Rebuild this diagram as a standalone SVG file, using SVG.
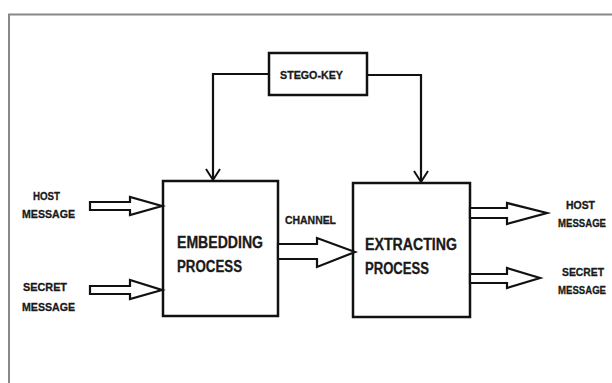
<svg xmlns="http://www.w3.org/2000/svg" width="612" height="383" viewBox="0 0 612 383">
<defs>
<style>
.box{fill:#fff;stroke:#111;stroke-width:2.5}
.ln{fill:none;stroke:#111;stroke-width:2.2}
.blk{fill:#fff;stroke:#111;stroke-width:2.2;stroke-linejoin:miter}
.t{font-family:"Liberation Sans",Arial,sans-serif;font-weight:bold;fill:#1a1a1a;stroke:#1a1a1a;stroke-width:0.3}
.s{font-size:11px}
.b{font-size:16px}
</style>
<marker id="v" markerWidth="14" markerHeight="16" refX="12" refY="8" orient="auto" markerUnits="userSpaceOnUse" viewBox="0 0 14 16">
<path d="M1,1 L12,8 L1,15" fill="none" stroke="#111" stroke-width="2"/>
</marker>
</defs>
<rect width="612" height="383" fill="#fff"/>
<path d="M9,383 L9,14.5 L612,14.5" fill="none" stroke="#888" stroke-width="2"/>
<g id="stego-key">
<rect class="box" x="269" y="53" width="98" height="42"/>
<text class="t s" x="280" y="79" textLength="63" lengthAdjust="spacingAndGlyphs">STEGO-KEY</text>
</g>
<g id="embedding">
<rect class="box" x="163" y="181" width="115" height="135"/>
<text class="t b" x="177" y="248" textLength="86" lengthAdjust="spacingAndGlyphs">EMBEDDING</text>
<text class="t b" x="177" y="272" textLength="65" lengthAdjust="spacingAndGlyphs">PROCESS</text>
</g>
<g id="extracting">
<rect class="box" x="353" y="183" width="117" height="134"/>
<text class="t b" x="365" y="250" textLength="92" lengthAdjust="spacingAndGlyphs">EXTRACTING</text>
<text class="t b" x="365" y="274" textLength="64" lengthAdjust="spacingAndGlyphs">PROCESS</text>
</g>
<g id="connectors">
<path class="ln" d="M269,74 L213,74 L213,180" marker-end="url(#v)"/>
<path class="ln" d="M367,75 L421,75 L421,182" marker-end="url(#v)"/>
<polygon class="blk" points="90,202 130,202 130,197 162,206 130,215 130,210 90,210"/>
<polygon class="blk" points="90,286 130,286 130,280 162,290 130,299 130,294 90,294"/>
<polygon class="blk" points="278,244 317,244 317,238 355,252 317,267 317,259 278,259"/>
<polygon class="blk" points="470,208 507,208 507,203 547,213 507,224 507,218 470,218"/>
<polygon class="blk" points="470,274 507,274 507,268 540,278 507,288 507,283 470,283"/>
</g>
<g id="channel-label">
<text class="t s" x="285" y="224" textLength="51" lengthAdjust="spacingAndGlyphs">CHANNEL</text>
</g>
<g id="host-in">
<text class="t s" x="33" y="200" textLength="27" lengthAdjust="spacingAndGlyphs">HOST</text>
<text class="t s" x="22" y="218" textLength="53" lengthAdjust="spacingAndGlyphs">MESSAGE</text>
</g>
<g id="secret-in">
<text class="t s" x="23" y="291" textLength="44" lengthAdjust="spacingAndGlyphs">SECRET</text>
<text class="t s" x="22" y="311" textLength="53" lengthAdjust="spacingAndGlyphs">MESSAGE</text>
</g>
<g id="host-out">
<text class="t s" x="566" y="209" textLength="29" lengthAdjust="spacingAndGlyphs">HOST</text>
<text class="t s" x="558" y="227" textLength="48" lengthAdjust="spacingAndGlyphs">MESSAGE</text>
</g>
<g id="secret-out">
<text class="t s" x="562" y="276" textLength="42" lengthAdjust="spacingAndGlyphs">SECRET</text>
<text class="t s" x="558" y="294" textLength="48" lengthAdjust="spacingAndGlyphs">MESSAGE</text>
</g>
</svg>
